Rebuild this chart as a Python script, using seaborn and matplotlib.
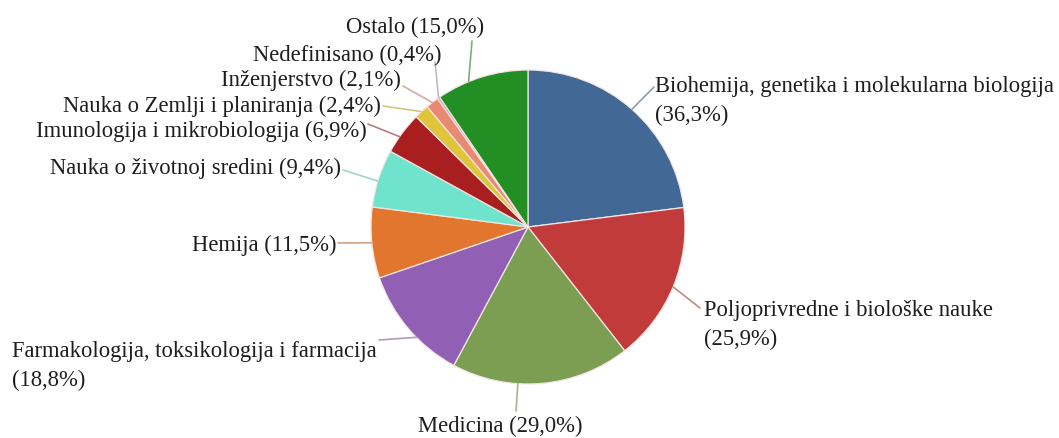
import numpy as np
import matplotlib
matplotlib.use("Agg")
import matplotlib.pyplot as plt
import matplotlib.colors as mcolors
import seaborn as sns

# data
categories = [
    "Biohemija, genetika i molekularna biologija",
    "Poljoprivredne i biološke nauke",
    "Medicina",
    "Farmakologija, toksikologija i farmacija",
    "Hemija",
    "Nauka o životnoj sredini",
    "Imunologija i mikrobiologija",
    "Nauka o Zemlji i planiranja",
    "Inženjerstvo",
    "Nedefinisano",
    "Ostalo",
]
shares = [36.3, 25.9, 29.0, 18.8, 11.5, 9.4, 6.9, 2.4, 2.1, 0.4, 15.0]
label_texts = [
    "Biohemija, genetika i molekularna biologija\n(36,3%)",
    "Poljoprivredne i biološke nauke\n(25,9%)",
    "Medicina (29,0%)",
    "Farmakologija, toksikologija i farmacija\n(18,8%)",
    "Hemija (11,5%)",
    "Nauka o životnoj sredini (9,4%)",
    "Imunologija i mikrobiologija (6,9%)",
    "Nauka o Zemlji i planiranja (2,4%)",
    "Inženjerstvo (2,1%)",
    "Nedefinisano (0,4%)",
    "Ostalo (15,0%)",
]

colors = ["#426896", "#C23B3B", "#7B9E52", "#9160B5", "#E3762E", "#6FE3CC",
          "#A91E1E", "#E0C43A", "#E88A72", "#C9A3A3", "#238E23"]

# label layout (pixel coords, y down)
text_pos = [(655, 101), (704, 325), (500, 426), (12, 366), (336, 245), (341, 168),
            (367, 131), (381, 106), (401, 80), (441, 55), (484, 27)]
text_ha = ["left", "left", "center", "left", "right", "right",
           "right", "right", "right", "right", "right"]
line_end = [(654, 88), (700, 309), (516, 412), (379, 341), (338, 244), (343, 171),
            (368, 125), (383, 107), (403, 87), (435, 63), (472, 42)]
anchor_frac = [0.5, 0.5, 0.63, 0.4, 0.5, 0.45, 0.4, 0.5, 0.5, 0.5, 0.35]

sns.set_theme(style="white")
plt.rcParams["font.family"] = ["Liberation Serif", "DejaVu Serif"]

W, H = 1059, 439
fig = plt.figure(figsize=(W / 100, H / 100), dpi=100)
ax = fig.add_axes([0, 0, 1, 1])

cx, cy, r = 528, 228, 157
wedges, _ = ax.pie(shares, colors=colors, startangle=-90, counterclock=True,
                   center=(cx, cy), radius=r,
                   wedgeprops=dict(edgecolor="#f3e4e4", linewidth=0.9))

ax.set_xlim(0, W)
ax.set_ylim(H, 0)
ax.set_aspect("equal")
ax.axis("off")

for i, w in enumerate(wedges):
    ang = np.deg2rad(w.theta1 + (w.theta2 - w.theta1) * anchor_frac[i])
    px, py = cx + r * np.cos(ang), cy + r * np.sin(ang)
    lc = np.array(mcolors.to_rgb(colors[i])) * 0.45 + np.array([0.78, 0.78, 0.78]) * 0.55
    ax.plot([px, line_end[i][0]], [py, line_end[i][1]], color=lc, lw=1.2,
            solid_capstyle="round")
    ax.text(text_pos[i][0], text_pos[i][1], label_texts[i], ha=text_ha[i],
            va="center", fontsize=16.3, color="#1e1e1e", linespacing=1.45)

fig.savefig("out.png", dpi=100, facecolor="white")
